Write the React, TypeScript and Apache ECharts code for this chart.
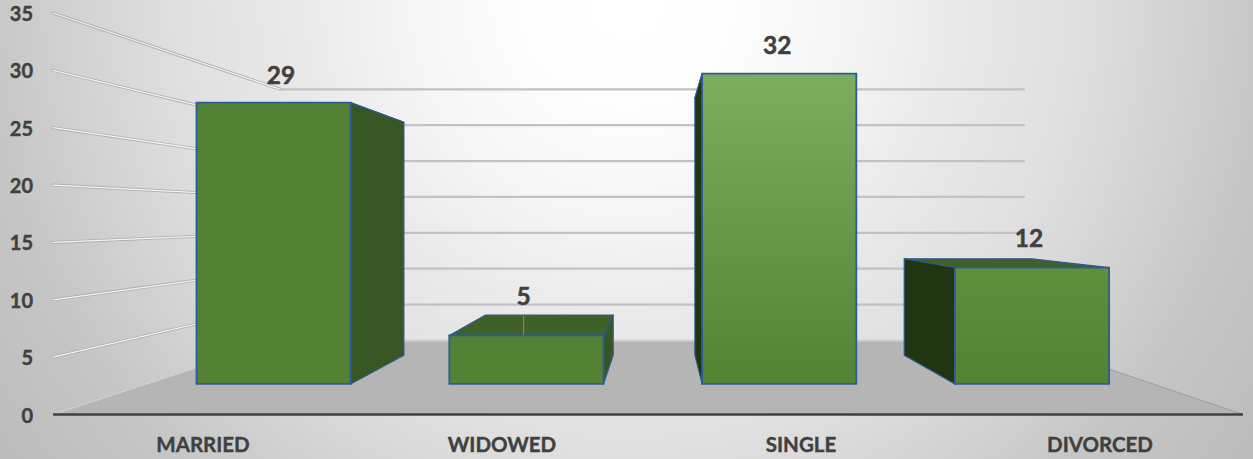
import React, { useEffect, useRef } from "react";
import * as echarts from "echarts";

const categories = ["MARRIED", "WIDOWED", "SINGLE", "DIVORCED"];
const values = [29, 5, 32, 12];
const yTicks = [0, 5, 10, 15, 20, 25, 30, 35];

// perspective of the drawing: vanishing point and depth scales
const VX = 660;
const VY = 216.8;
const S_BACK = 0.6257;
const S_FRONT = 0.8455;
const S_BAR_BACK = 0.7;
const S_LABEL = 0.835;
const BAR_RATIO = 0.305;
const BAR_SHIFT = 0.5;
const FRAME_RIGHT_INSET = 6;

const faceTop = ["#548235", "#548235", "#7dad5f", "#5e8f3c"];
const sideColor = ["#375623", "#375623", "#203612", "#203612"];
const topColor = "#3f6127";
const edge = "#2f5a96";
const textColor = "#404040";
const labelNudge = [[3, -1], [-4, -9], [0, -2], [2, 0]];
const hasLeader = [false, true, false, false];

const proj = (x: number, y: number, s: number) => [VX + s * (x - VX), VY + s * (y - VY)];

function renderFloor(params: any, api: any) {
  const cs = params.coordSys;
  const y0 = api.coord([0, 0])[1];
  const l = cs.x;
  const r = cs.x + cs.width - FRAME_RIGHT_INSET;
  const bl = proj(l, y0, S_BACK);
  const br = proj(r, y0, S_BACK);
  return {
    type: "group",
    children: [
      { type: "polygon", shape: { points: [[l, y0], [r, y0], br, bl] }, style: { fill: "#b5b5b5" } },
      { type: "line", shape: { x1: l, y1: y0, x2: bl[0], y2: bl[1] }, style: { stroke: "#d2d2d2", lineWidth: 1 } },
      { type: "line", shape: { x1: r, y1: y0, x2: br[0], y2: br[1] }, style: { stroke: "#9c9c9c", lineWidth: 1 } },
    ],
  };
}

function renderGrid(params: any, api: any) {
  const cs = params.coordSys;
  const v = api.value(0);
  const y = api.coord([0, v])[1];
  const l = cs.x;
  const r = cs.x + cs.width - FRAME_RIGHT_INSET;
  const a = proj(l, y, S_BACK);
  const b = proj(r, y, S_BACK);
  const children: any[] = [
    { type: "line", shape: { x1: a[0], y1: a[1], x2: b[0], y2: b[1] }, style: { stroke: v === 0 ? "#d0d0d0" : "#c2c2c2", lineWidth: 2.2 } },
  ];
  if (v !== 0) {
    children.push(
      { type: "line", shape: { x1: l, y1: y, x2: a[0], y2: a[1] }, style: { stroke: "#aeaeae", lineWidth: 3, lineCap: "round" } },
      { type: "line", shape: { x1: l, y1: y, x2: a[0], y2: a[1] }, style: { stroke: "#f5f5f5", lineWidth: 1.3, lineCap: "round" } },
    );
  }
  return { type: "group", children };
}

function renderAxisLine(params: any, api: any) {
  const cs = params.coordSys;
  const y0 = api.coord([0, 0])[1];
  return {
    type: "line",
    shape: { x1: cs.x, y1: y0, x2: cs.x + cs.width - FRAME_RIGHT_INSET, y2: y0 },
    style: { stroke: "#404040", lineWidth: 2.5 },
  };
}

function renderBar(params: any, api: any) {
  const i = api.value(0);
  const v = api.value(1);
  const c = api.coord([i, v]);
  const y0 = api.coord([i, 0])[1];
  const half = api.size([1, 0])[0] * BAR_RATIO;
  const x1 = c[0] - half + BAR_SHIFT;
  const x2 = c[0] + half + BAR_SHIFT;
  const fTL = proj(x1, c[1], S_FRONT);
  const fTR = proj(x2, c[1], S_FRONT);
  const fBL = proj(x1, y0, S_FRONT);
  const fBR = proj(x2, y0, S_FRONT);
  const bTL = proj(x1, c[1], S_BAR_BACK);
  const bTR = proj(x2, c[1], S_BAR_BACK);
  const bBL = proj(x1, y0, S_BAR_BACK);
  const bBR = proj(x2, y0, S_BAR_BACK);
  const children: any[] = [];
  children.push({
    type: "polygon",
    shape: { points: [fTL, fTR, bTR, bTL] },
    style: { fill: topColor, stroke: edge, lineWidth: 1.2, lineJoin: "round" },
  });
  const side = fTR[0] < VX ? [fTR, bTR, bBR, fBR] : [fTL, bTL, bBL, fBL];
  children.push({
    type: "polygon",
    shape: { points: side },
    style: { fill: sideColor[i], stroke: edge, lineWidth: 1.1, lineJoin: "round" },
  });
  children.push({
    type: "polygon",
    shape: { points: [fTL, fTR, fBR, fBL] },
    style: {
      fill: {
        type: "linear", x: 0, y: 0, x2: 0, y2: 1,
        colorStops: [{ offset: 0, color: faceTop[i] }, { offset: 1, color: "#548235" }],
      },
      stroke: edge,
      lineWidth: 1.8,
      lineJoin: "miter",
    },
  });
  const lp = proj(c[0], c[1], S_LABEL);
  const lx = lp[0] + labelNudge[i][0];
  const ly = lp[1] - 29 + labelNudge[i][1];
  if (hasLeader[i]) {
    children.push({
      type: "line",
      shape: { x1: lx, y1: ly + 20, x2: lx, y2: fTL[1] - 1 },
      style: { stroke: "#8a8a8a", lineWidth: 1 },
    });
  }
  children.push({
    type: "text",
    style: {
      text: String(v),
      x: lx,
      y: ly,
      fill: textColor,
      stroke: textColor,
      lineWidth: 0.5,
      font: "bold 24.5px Lato",
      textAlign: "center",
      textVerticalAlign: "middle",
      verticalAlign: "middle",
    },
  });
  return { type: "group", children };
}

export default function App() {
  const ref = useRef<HTMLDivElement>(null);
  useEffect(() => {
    const chart = echarts.init(ref.current!, undefined, { renderer: "svg" });
    chart.setOption({
      animation: false,
      grid: { left: 53, top: 13, width: 1196, height: 401.5, containLabel: false },
      xAxis: {
        type: "category",
        data: categories,
        axisLine: { show: false },
        axisTick: { show: false },
        splitLine: { show: false },
        axisLabel: {
          color: textColor, fontFamily: "Lato", fontWeight: "bold", fontSize: 20.5, margin: 19, interval: 0,
          textBorderColor: textColor, textBorderWidth: 0.4, padding: [0, 0, 0, 1],
        },
      },
      yAxis: {
        type: "value",
        min: 0,
        max: 35,
        interval: 5,
        axisLine: { show: false },
        axisTick: { show: false },
        splitLine: { show: false },
        axisLabel: {
          color: textColor, fontFamily: "Lato", fontWeight: "bold", fontSize: 20, margin: 20,
          textBorderColor: textColor, textBorderWidth: 0.4, padding: [6, 0, 0, 0],
        },
      },
      series: [
        { type: "custom", name: "floor", coordinateSystem: "cartesian2d", silent: true, clip: false, data: [[0, 0]], encode: { x: 0, y: 1 }, renderItem: renderFloor },
        { type: "custom", name: "grid", coordinateSystem: "cartesian2d", silent: true, clip: false, data: yTicks.map((t) => [t]), encode: { y: 0 }, renderItem: renderGrid },
        { type: "custom", name: "axis", coordinateSystem: "cartesian2d", silent: true, clip: false, data: [[0, 0]], encode: { x: 0, y: 1 }, renderItem: renderAxisLine },
        { type: "custom", name: "bars", coordinateSystem: "cartesian2d", silent: true, clip: false, data: categories.map((_, i) => [i, values[i]]), encode: { x: 0, y: 1 }, renderItem: renderBar },
      ],
    });
    return () => chart.dispose();
  }, []);
  return (
    <div
      ref={ref}
      style={{
        position: "absolute",
        left: 0,
        top: 0,
        width: 1253,
        height: 459,
        background:
          "radial-gradient(ellipse 640px 640px at 50% 0%, #ffffff 0px, #fefefe 90px, #f5f5f5 220px, #eaeaea 320px, #e0e0e0 445px, #d8d8d8 510px, #c6c6c6 640px, #bcbcbc 770px)",
      }}
    />
  );
}
